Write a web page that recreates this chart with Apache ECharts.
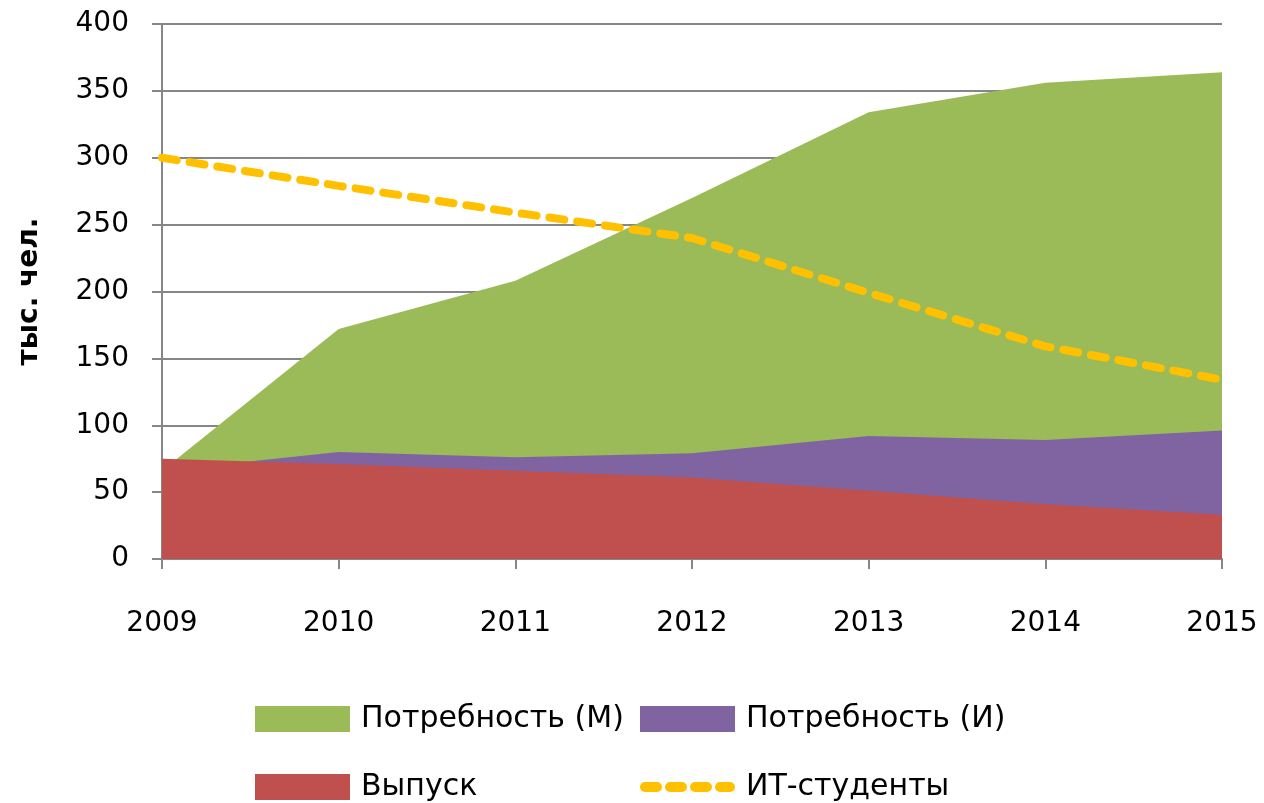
<!DOCTYPE html>
<html>
<head>
<meta charset="utf-8">
<script src="https://cdn.jsdelivr.net/npm/echarts@6/dist/echarts.min.js"></script>
<style>html,body{margin:0;padding:0;background:#fff}#c{width:1264px;height:803px}</style>
</head>
<body>
<div id="c"></div>
<script>
var years = ['2009','2010','2011','2012','2013','2014','2015'];
var demandM = [66, 172, 208, 270, 334, 356, 364];
var demandI = [66, 80, 76, 79, 92, 89, 96];
var graduates = [75, 71, 66, 61, 51, 41, 33];
var itStudents = [300, 279, 259, 240, 199, 159, 134];
var yTicks = {min: 0, max: 400, interval: 50};

var FONT = 'DejaVu Sans';
var legendText = {color: '#000', fontFamily: FONT, fontSize: 30, padding: [0, 0, 0, 6]};
var dashIcon = 'path://M5,0 h12 a5,5 0 0 1 0,10 h-12 a5,5 0 0 1 0,-10 z M30,0 h12 a5,5 0 0 1 0,10 h-12 a5,5 0 0 1 0,-10 z M55,0 h12 a5,5 0 0 1 0,10 h-12 a5,5 0 0 1 0,-10 z M80,0 h10 a5,5 0 0 1 0,10 h-10 a5,5 0 0 1 0,-10 z';
function leg(name, left, top, icon, h) {
  return {left: left, top: top, padding: 0, itemWidth: 95, itemHeight: h, itemGap: 12,
    icon: icon, textStyle: legendText, data: [name]};
}
var chart = echarts.init(document.getElementById('c'));
chart.setOption({
  animation: false,
  backgroundColor: '#fff',
  grid: {left: 162, right: 42, top: 24, bottom: 244},
  xAxis: {
    type: 'category', data: years, boundaryGap: false,
    axisLine: {lineStyle: {color: '#868686', width: 2}},
    axisTick: {show: true, length: 10, lineStyle: {color: '#868686', width: 2}},
    axisLabel: {color: '#000', fontFamily: FONT, fontSize: 28, margin: 51}
  },
  yAxis: {
    type: 'value', min: yTicks.min, max: yTicks.max, interval: yTicks.interval,
    name: 'тыс. чел.', nameLocation: 'middle', nameGap: 118, nameRotate: 90,
    nameTextStyle: {color: '#000', fontFamily: FONT, fontSize: 28, fontWeight: 'bold'},
    axisLine: {show: true, lineStyle: {color: '#868686', width: 2}},
    axisTick: {show: true, length: 10, lineStyle: {color: '#868686', width: 2}},
    splitLine: {lineStyle: {color: '#868686', width: 2}},
    axisLabel: {color: '#000', fontFamily: FONT, fontSize: 28, margin: 33}
  },
  legend: [
    leg('Потребность (М)', 255, 704, 'rect', 26),
    leg('Потребность (И)', 640, 704, 'rect', 26),
    leg('Выпуск', 255, 772, 'rect', 26),
    leg('ИТ-студенты', 640, 772, dashIcon, 10)
  ],
  series: [{
    name: 'Потребность (М)', type: 'line', data: demandM, symbol: 'none',
    lineStyle: {width: 0}, itemStyle: {color: '#9BBB59'},
    areaStyle: {color: '#9BBB59', opacity: 1}, z: 1
  }, {
    name: 'Потребность (И)', type: 'line', data: demandI, symbol: 'none',
    lineStyle: {width: 0}, itemStyle: {color: '#8064A2'},
    areaStyle: {color: '#8064A2', opacity: 1}, z: 2
  }, {
    name: 'Выпуск', type: 'line', data: graduates, symbol: 'none',
    lineStyle: {width: 0}, itemStyle: {color: '#C0504D'},
    areaStyle: {color: '#C0504D', opacity: 1}, z: 3
  }, {
    name: 'ИТ-студенты', type: 'line', data: itStudents, symbol: 'none',
    itemStyle: {color: '#FFC000'},
    lineStyle: {color: '#FFC000', width: 8, type: [15, 13], cap: 'round'}, z: 4
  }]
});
</script>
</body>
</html>
